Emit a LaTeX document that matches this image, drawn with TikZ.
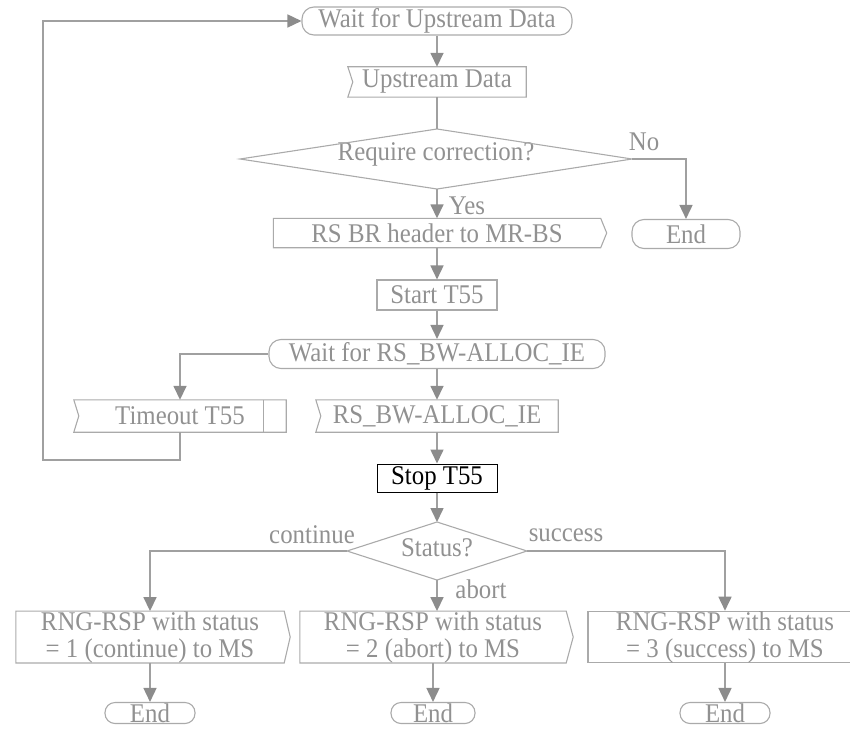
\documentclass[tikz,border=0pt]{standalone}
\usepackage{fontspec}
\setmainfont{Liberation Serif}[FakeStretch=0.92]
\usetikzlibrary{arrows.meta}
\definecolor{txtg}{RGB}{145,145,145}
\definecolor{boxg}{RGB}{170,170,170}
\definecolor{lng}{RGB}{160,160,160}
\definecolor{arrg}{RGB}{140,140,140}
\begin{document}
\begin{tikzpicture}[x=1pt,y=-1pt,
  every node/.style={font=\fontsize{27}{27}\selectfont, text=txtg, inner sep=0pt},
  plainbox/.style={draw=boxg, line width=1.1pt},
  shapebox/.style={},
  term/.style={draw=boxg, line width=1.1pt, rounded corners=12pt},
  outline/.style={draw=boxg, line width=1.1pt},
  conn/.style={draw=lng, line width=1.6pt},
  arr/.style={conn, -{Triangle[length=14pt,width=13pt,color=arrg]}},
  lbl/.style={}]
\useasboundingbox (0,0) rectangle (850,733);
\clip (0,0) rectangle (850,733);

% top part
\node[term, minimum width=270pt, minimum height=28pt] (w1) at (437,21) {Wait for Upstream Data};
\node[shapebox, minimum width=178pt, minimum height=30pt] (ud) at (437,82) {Upstream Data};
\draw[outline] (ud.north west) -- (ud.north east) -- (ud.south east) -- (ud.south west) -- ([xshift=5pt]ud.west) -- cycle;

\node (rc) at (436,154) {Require correction?};
\coordinate (rcL) at (240,159);
\coordinate (rcT) at (437,129);
\coordinate (rcR) at (632,159);
\coordinate (rcB) at (437,189);
\draw[outline] (rcL) -- (rcT) -- (rcR) -- (rcB) -- cycle;

\node[term, minimum width=108pt, minimum height=29pt] (e0) at (686,234) {End};
\node[lbl] (no) at (644,142) {No};
\node[lbl] (yes) at (467,206) {Yes};

\node[shapebox, minimum width=327pt, minimum height=29pt] (rsbr) at (437,233) {RS BR header to MR-BS};
\draw[outline] (rsbr.north west) -- (rsbr.north east) -- ([xshift=6pt]rsbr.east) -- (rsbr.south east) -- (rsbr.south west) -- cycle;

\node[plainbox, minimum width=120pt, minimum height=30pt] (st) at (437,295) {Start T55};
\node[term, minimum width=336pt, minimum height=29pt] (w2) at (437,354) {Wait for RS\_BW-ALLOC\_IE};

\node[shapebox, minimum width=212pt, minimum height=32pt] (to) at (180,416) {Timeout T55};
\draw[outline] (to.north west) -- (to.north east) -- (to.south east) -- (to.south west) -- ([xshift=5pt]to.west) -- cycle;
\draw[outline] ([xshift=-23pt]to.north east) -- ([xshift=-23pt]to.south east);

\node[shapebox, minimum width=242pt, minimum height=32pt] (bw) at (437,416) {RS\_BW-ALLOC\_IE};
\draw[outline] (bw.north west) -- (bw.north east) -- (bw.south east) -- (bw.south west) -- ([xshift=5pt]bw.west) -- cycle;

\node[draw=black, line width=1pt, text=black, minimum width=120pt, minimum height=28pt] (sp) at (437,478) {Stop T55};

\node (ss) at (437,548) {Status?};
\coordinate (sL) at (347,551);
\coordinate (sT) at (437,522);
\coordinate (sR) at (527,551);
\coordinate (sB) at (437,580);
\draw[outline] (sL) -- (sT) -- (sR) -- (sB) -- cycle;

\node[lbl] (lc) at (312,535) {continue};
\node[lbl] (ls) at (566,535) {success};
\node[lbl] (la) at (481,589) {abort};

\node[shapebox, minimum width=268pt, minimum height=50pt, align=center] (b1) at (150,637) {RNG-RSP with status\\= 1 (continue) to MS};
\draw[outline] (b1.north west) -- (b1.north east) -- ([xshift=6pt]b1.east) -- (b1.south east) -- (b1.south west) -- cycle;
\node[shapebox, minimum width=266pt, minimum height=50pt, align=center] (b2) at (433,637) {RNG-RSP with status\\= 2 (abort) to MS};
\draw[outline] (b2.north west) -- (b2.north east) -- ([xshift=7pt]b2.east) -- (b2.south east) -- (b2.south west) -- cycle;
\node[plainbox, minimum width=274pt, minimum height=50pt, align=center] (b3) at (725,637) {RNG-RSP with status\\= 3 (success) to MS};

\node[term, rounded corners=10pt, minimum width=90pt, minimum height=21pt] (e1) at (150,713) {End};
\node[term, rounded corners=10pt, minimum width=84pt, minimum height=21pt] (e2) at (433,713) {End};
\node[term, rounded corners=10pt, minimum width=90pt, minimum height=21pt] (e3) at (725,713) {End};

% connectors
\coordinate (lp) at (43,460);
\draw[arr] (w1.south) -- (ud.north);
\draw[conn] (ud.south) -- (rcT);
\draw[arr] (rcR) -| (e0.north);
\draw[arr] (rcB) -- (rsbr.north);
\draw[arr] (rsbr.south) -- (st.north);
\draw[arr] (st.south) -- (w2.north);
\draw[arr] (w2.west) -| (to.north);
\draw[arr] (w2.south) -- (bw.north);
\draw[arr] (to.south) |- (lp) |- (w1.west);
\draw[arr] (bw.south) -- (sp.north);
\draw[arr] (sp.south) -- (sT);
\draw[arr] (sL) -| (b1.north);
\draw[arr] (sB) -- (sB |- b2.north);
\draw[arr] (sR) -| (b3.north);
\draw[arr] (b1.south) -- (e1.north);
\draw[arr] (b2.south) -- (e2.north);
\draw[arr] (b3.south) -- (e3.north);
\end{tikzpicture}
\end{document}
